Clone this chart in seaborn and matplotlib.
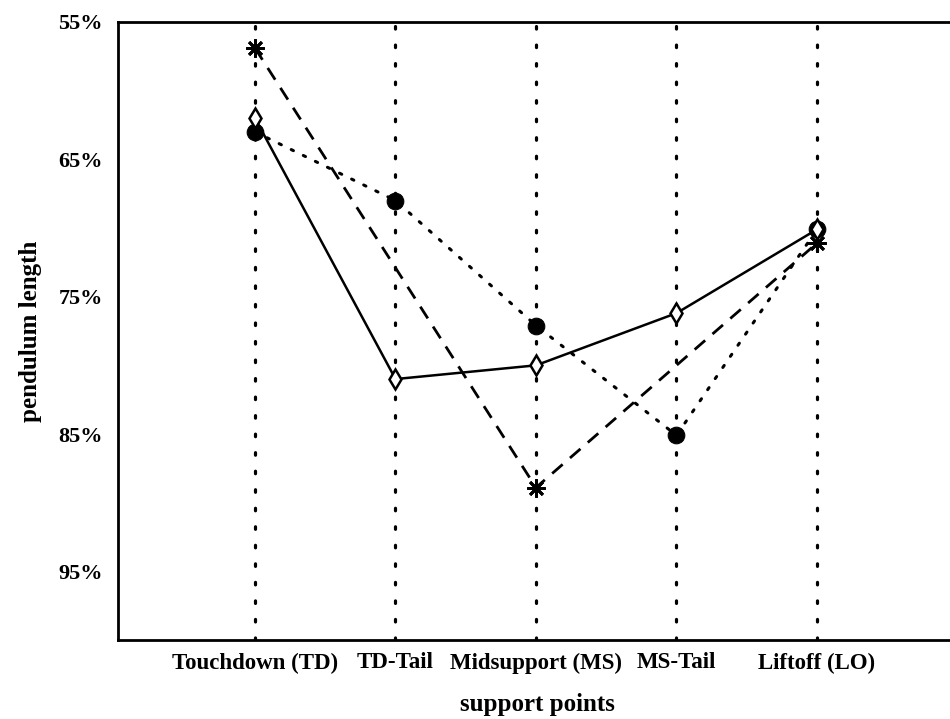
import numpy as np
import pandas as pd
import matplotlib
matplotlib.use("Agg")
import matplotlib.pyplot as plt
import seaborn as sns

categories = ["Touchdown (TD)", "TD-Tail", "Midsupport (MS)", "MS-Tail", "Liftoff (LO)"]
solid_vals = [62.0, 81.0, 80.0, 76.2, 70.1]
dotted_vals = [63.0, 68.0, 77.1, 85.1, 70.1]
dashed_cats = ["Touchdown (TD)", "Midsupport (MS)", "Liftoff (LO)"]
dashed_vals = [56.9, 88.9, 71.1]
yticks = [55, 65, 75, 85, 95]

sns.set_theme(style="white")
plt.rcParams['font.family'] = ['Liberation Serif', 'DejaVu Serif']
plt.rcParams['font.weight'] = 'bold'
plt.rcParams['text.color'] = 'black'
plt.rcParams['axes.labelcolor'] = 'black'
plt.rcParams['xtick.color'] = 'black'
plt.rcParams['ytick.color'] = 'black'

fig = plt.figure(figsize=(9.5, 7.19), dpi=100)
ax = fig.add_axes([118/950, 1-640/719, (957.5-118)/950, (640-22)/719])

pos = {c: i for i, c in enumerate(categories)}
df_solid = pd.DataFrame({"x": [pos[c] for c in categories], "y": solid_vals})
df_dot = pd.DataFrame({"x": [pos[c] for c in categories], "y": dotted_vals})
df_dash = pd.DataFrame({"x": [pos[c] for c in dashed_cats], "y": dashed_vals})

dot_style = (0, (0.8, 3.6))

# vertical dotted guide lines
for i in range(len(categories)):
    ax.axvline(i, color="black", lw=2.3, linestyle=(0, (0.8, 5.0)), dash_capstyle="round", zorder=1)

sns.lineplot(data=df_dot, x="x", y="y", ax=ax, color="black", lw=2.2,
             linestyle=dot_style, dash_capstyle="round", marker="o", markersize=12,
             markerfacecolor="black", markeredgecolor="black", zorder=3)
sns.lineplot(data=df_dash, x="x", y="y", ax=ax, color="black", lw=2.0,
             linestyle=(0, (5, 3.5)), marker=(8, 2, 0), markersize=13,
             markeredgewidth=2.0, markeredgecolor="black", zorder=4)
sns.lineplot(data=df_solid, x="x", y="y", ax=ax, color="black", lw=1.8,
             linestyle="-", marker="d", markersize=10, markerfacecolor="white",
             markeredgecolor="black", markeredgewidth=1.8, zorder=5)

ax.set_xlim(-0.975, 5)
ax.set_ylim(100, 55)
ax.set_yticks(yticks)
ax.set_yticklabels([f"{v}%" for v in yticks], fontsize=16, fontweight="bold")
ax.set_xticks(range(len(categories)))
ax.set_xticklabels(categories, fontsize=16.5, fontweight="bold")
ax.tick_params(axis="x", length=0, pad=9)
ax.tick_params(axis="y", length=0, pad=11)
ax.set_xlabel("support points", fontsize=18, fontweight="bold", labelpad=14)
ax.set_ylabel("pendulum length", fontsize=18, fontweight="bold", labelpad=12)
for s in ["top", "left", "bottom"]:
    ax.spines[s].set_color("black")
    ax.spines[s].set_linewidth(2)
ax.spines["right"].set_visible(False)
ax.grid(False)

fig.savefig("out.png", dpi=100)
